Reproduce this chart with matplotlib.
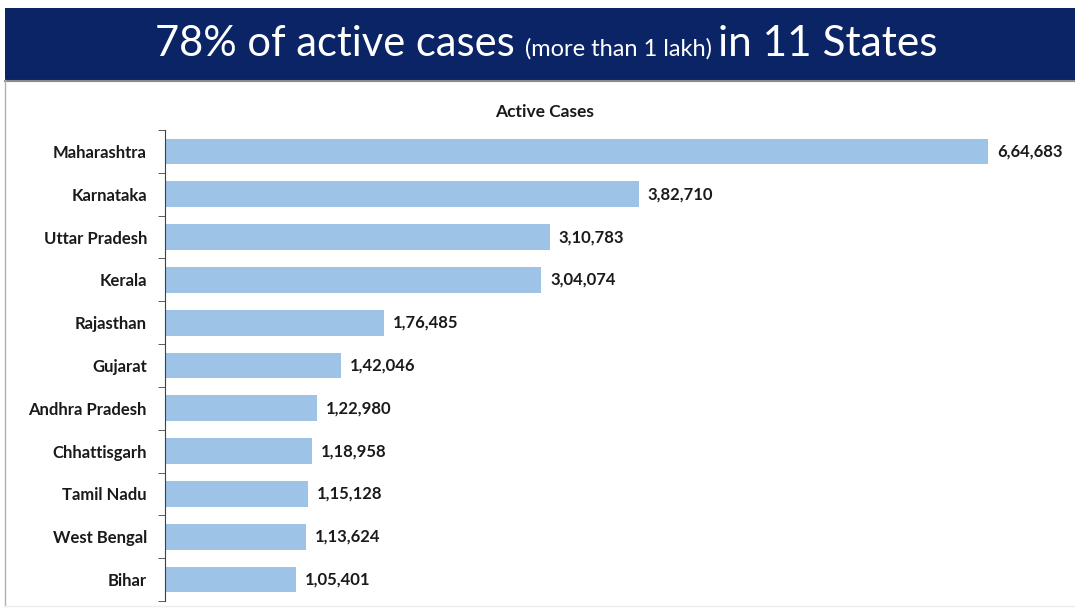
import matplotlib
matplotlib.use("Agg")
import matplotlib.pyplot as plt
from matplotlib.patches import Rectangle
from matplotlib.lines import Line2D
from matplotlib.offsetbox import TextArea, HPacker, AnchoredOffsetbox

# data
states = ["Maharashtra", "Karnataka", "Uttar Pradesh", "Kerala", "Rajasthan",
          "Gujarat", "Andhra Pradesh", "Chhattisgarh", "Tamil Nadu",
          "West Bengal", "Bihar"]
active_cases = [664683, 382710, 310783, 304074, 176485, 142046,
                122980, 118958, 115128, 113624, 105401]

BAR_COLOR = "#9dc3e6"
BANNER = "#0b2466"
FONT = "Lato"


def indian_format(n):
    """1,05,401 style grouping."""
    s = str(n)
    if len(s) <= 3:
        return s
    head, tail = s[:-3], s[-3:]
    parts = []
    while len(head) > 2:
        parts.insert(0, head[-2:])
        head = head[:-2]
    if head:
        parts.insert(0, head)
    return ",".join(parts) + "," + tail


W, H = 1075, 611
fig = plt.figure(figsize=(W / 100, H / 100), dpi=100)
fig.patch.set_facecolor("white")

# title banner
fig.add_artist(Rectangle((5 / W, 1 - 80 / H), 1 - 5 / W, 72 / H,
                         transform=fig.transFigure, facecolor=BANNER,
                         edgecolor="none"))
fig.add_artist(Line2D([5 / W, 1], [1 - 81 / H] * 2, transform=fig.transFigure,
                      color="#8a8a8a", lw=1.5))
# light frame around the slide body
fig.add_artist(Line2D([5 / W, 5 / W], [1 - 80 / H, 1 - 606 / H],
                      transform=fig.transFigure, color="#b0b0b0", lw=1))
fig.add_artist(Line2D([5 / W, 1], [1 - 606 / H] * 2,
                      transform=fig.transFigure, color="#eeeeee", lw=1))

pieces = [
    TextArea("78% of active cases ", textprops=dict(color="white", fontsize=30, family=FONT)),
    TextArea("(more than 1 lakh) ", textprops=dict(color="white", fontsize=17, family=FONT)),
    TextArea("in 11 States", textprops=dict(color="white", fontsize=30.5, family=FONT)),
]
title_box = HPacker(children=pieces, align="baseline", pad=0, sep=0)
anchored = AnchoredOffsetbox(loc="center", child=title_box, frameon=False,
                             bbox_to_anchor=(546 / W, 1 - 44 / H),
                             bbox_transform=fig.transFigure, pad=0, borderpad=0)
fig.add_artist(anchored)

# bar chart
ax = fig.add_axes([165 / W, 1 - 601 / H, (1060 - 165) / W, (601 - 130) / H])
y = list(range(len(states)))
ax.barh(y, active_cases, height=0.6, color=BAR_COLOR)
ax.set_ylim(len(states) - 0.5, -0.5)
ax.set_xlim(0, 664683 * 895 / 823)

for yi, v in zip(y, active_cases):
    ax.annotate(indian_format(v), (v, yi), xytext=(6.5, 0), textcoords="offset points",
                va="center", ha="left", fontsize=12, fontweight="bold",
                family=FONT, color="#1a1a1a")

ax.set_yticks(y)
ax.set_yticklabels(states, fontsize=12, fontweight="bold", family=FONT, color="#1a1a1a")
ax.set_yticks([i - 0.5 for i in range(len(states) + 1)], minor=True)
ax.tick_params(axis="y", which="major", length=0, pad=13)
ax.tick_params(axis="y", which="minor", length=5, direction="out", color="#404040")
ax.set_xticks([])
for side in ["top", "right", "bottom"]:
    ax.spines[side].set_visible(False)
ax.spines["left"].set_color("#404040")
ax.set_facecolor("none")

fig.text(545 / W, 1 - 112 / H, "Active Cases", ha="center", va="center",
         fontsize=12.5, fontweight="bold", family=FONT, color="#1a1a1a")

fig.savefig("out.png", dpi=100)
